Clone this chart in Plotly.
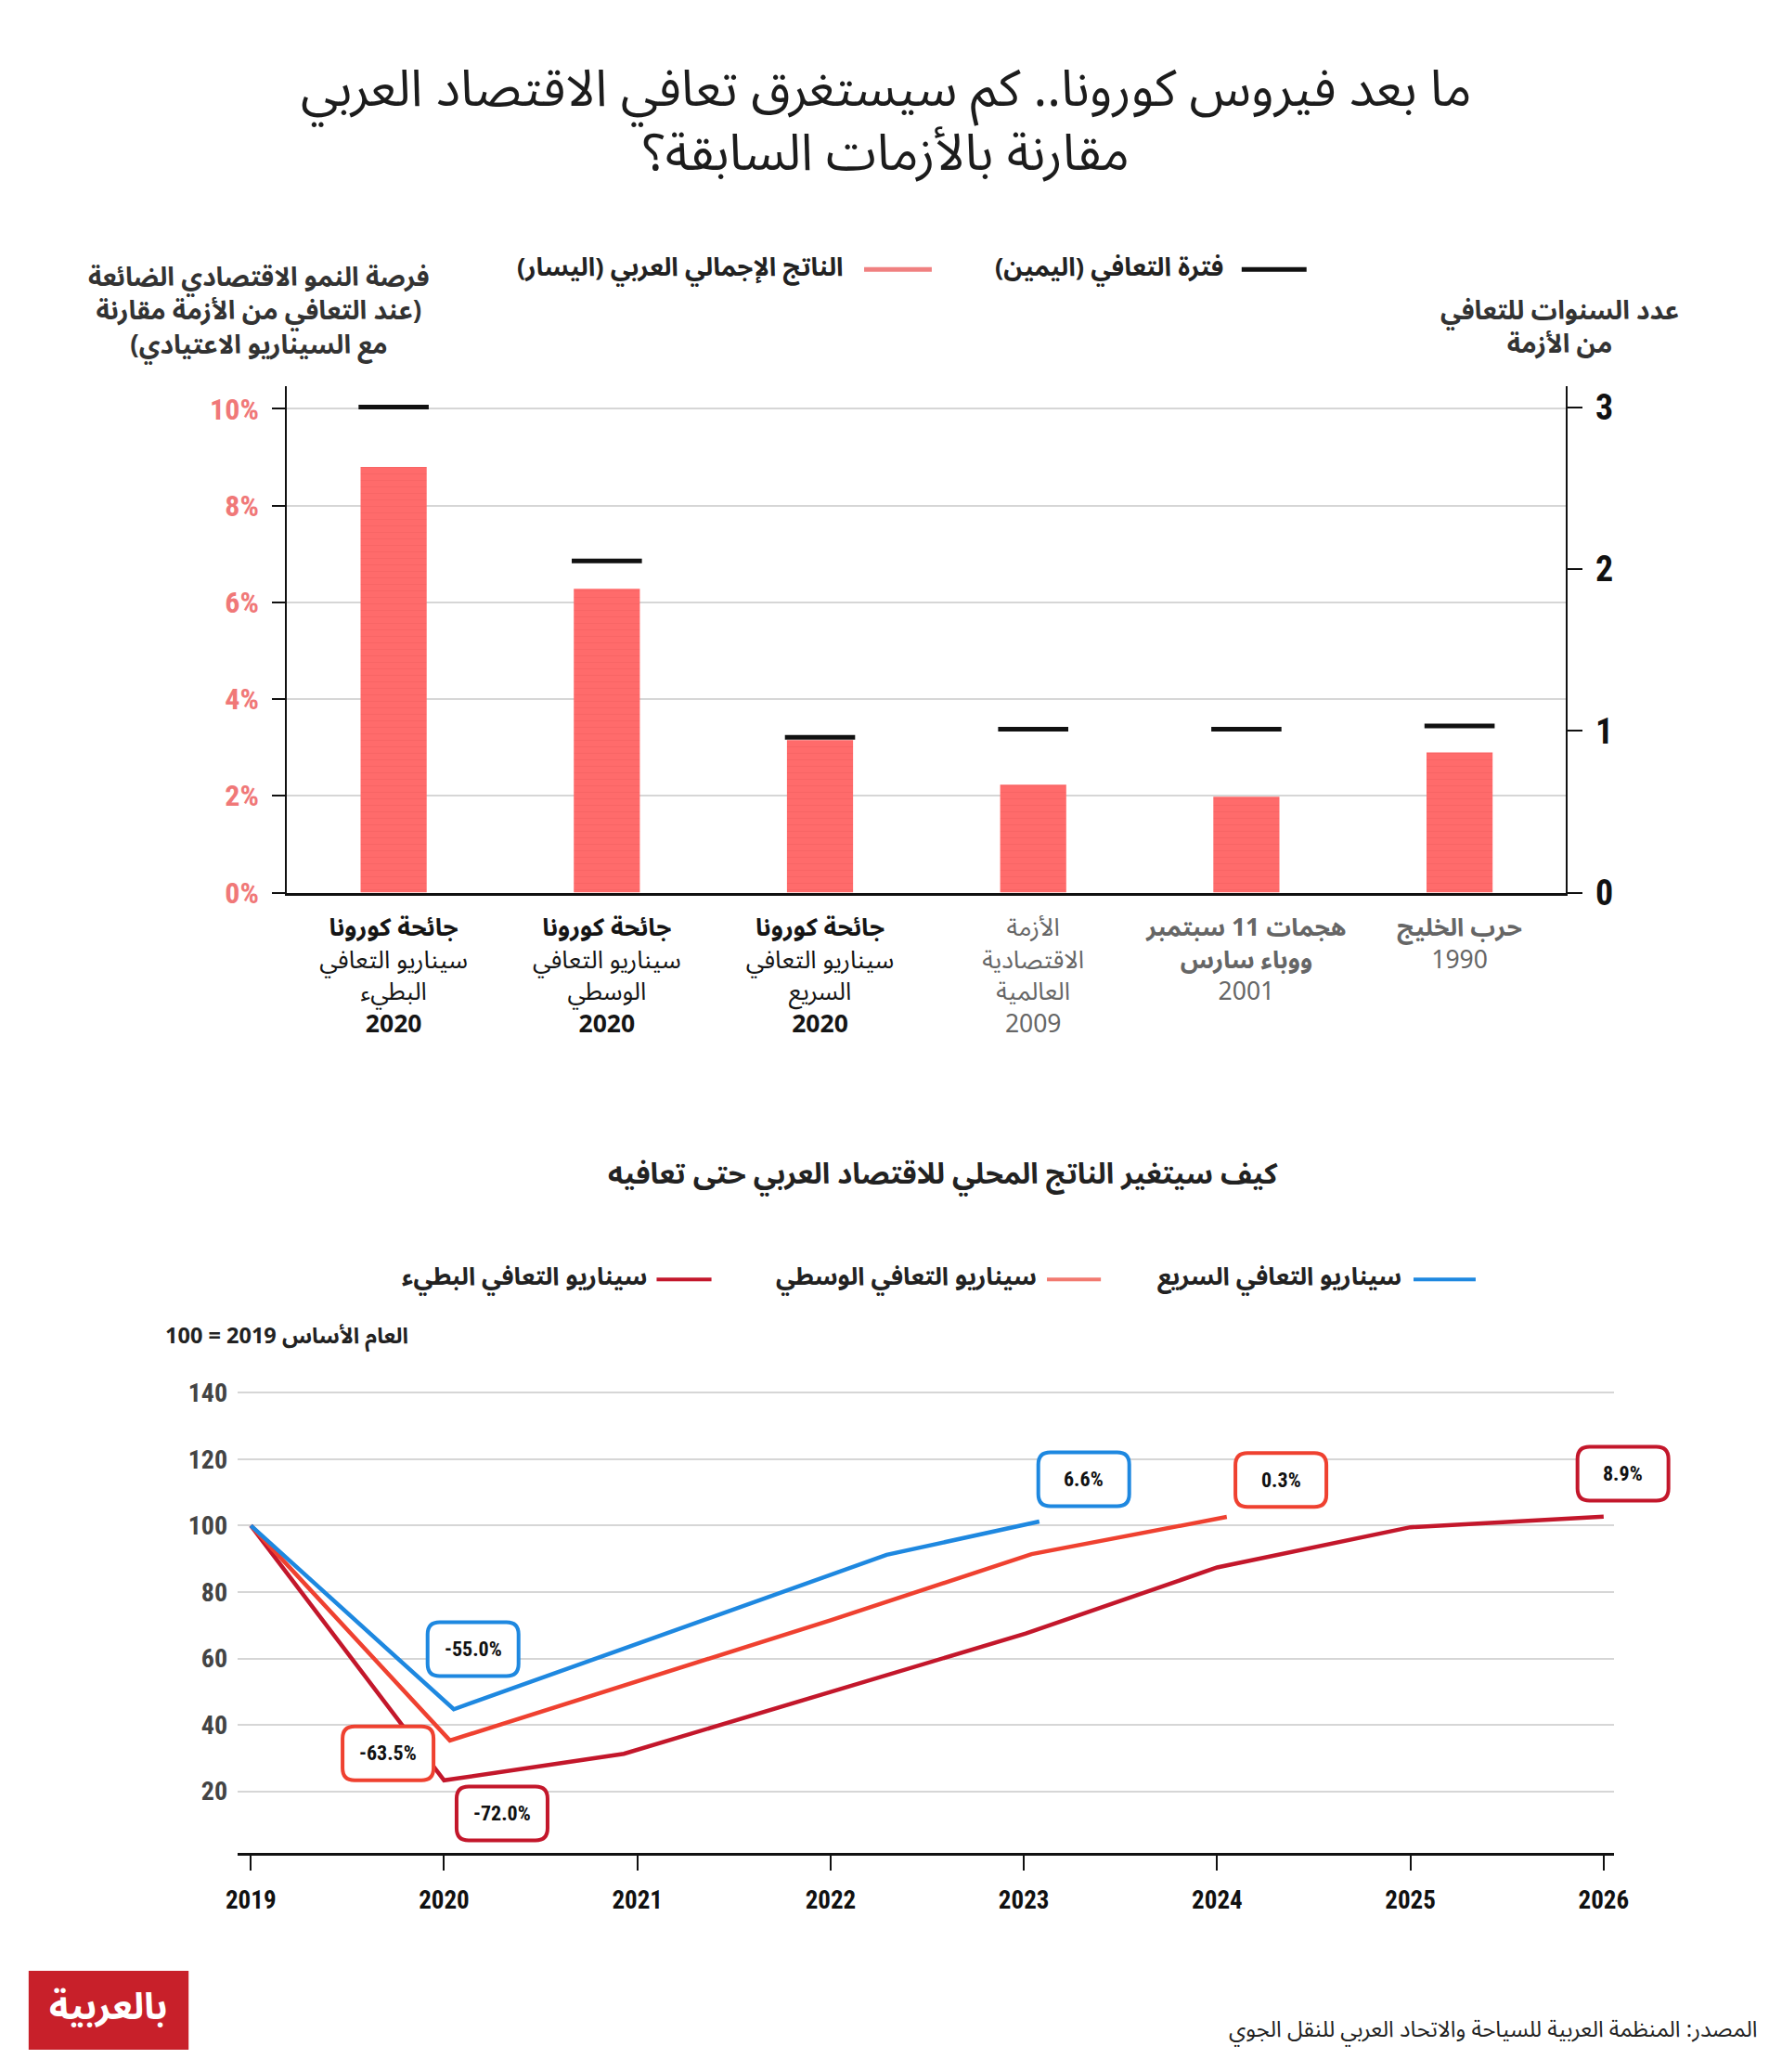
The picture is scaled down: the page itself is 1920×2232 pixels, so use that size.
import plotly.graph_objects as go

W, H = 1920, 2232
RLM = "\u200f"
AR = "Noto Sans Arabic Condensed, Noto Sans Arabic, Liberation Sans Narrow, DejaVu Sans Condensed, DejaVu Sans"
NUM = "Liberation Sans Narrow, Roboto Condensed, Roboto, Liberation Sans"

# ---------------- data: top chart ----------------
crisis_ids = ["c_slow", "c_mid", "c_fast", "gfc", "sep11", "gulf"]
crisis_lines = [
    ["جائحة كورونا", "سيناريو التعافي", "البطيء", "2020"],
    ["جائحة كورونا", "سيناريو التعافي", "الوسطي", "2020"],
    ["جائحة كورونا", "سيناريو التعافي", "السريع", "2020"],
    ["الأزمة", "الاقتصادية", "العالمية", "2009"],
    ["هجمات 11 سبتمبر", "ووباء سارس", "2001"],
    ["حرب الخليج", "1990"],
]
gdp_loss_pct = [8.8, 6.28, 3.15, 2.23, 1.98, 2.9]        # left axis (%)
recovery_years = [3.0, 2.05, 0.96, 1.01, 1.01, 1.03]     # right axis (years)
pct_ticks = [0, 2, 4, 6, 8, 10]
pct_tick_labels = ["0%", "2%", "4%", "6%", "8%", "10%"]
year_ticks = [0, 1, 2, 3]

# ---------------- data: bottom chart ----------------
years = [2019, 2020, 2021, 2022, 2023, 2024, 2025, 2026]
fast_x = [2019, 2020.05, 2022.29, 2023.08]
fast_y = [100, 44.7, 91.2, 101.2]
mid_x = [2019, 2020.03, 2022.0, 2023.04, 2024.05]
mid_y = [100, 35.3, 71.5, 91.4, 102.6]
slow_x = [2019, 2020.0, 2020.93, 2023.01, 2024.0, 2025.0, 2026.0]
slow_y = [100, 23.3, 31.3, 67.5, 87.4, 99.5, 102.7]
gdp_ticks = [20, 40, 60, 80, 100, 120, 140]

callout_text = ["6.6%", "-55.0%", "0.3%", "-63.5%", "8.9%", "-72.0%"]
callout_x = [2023.31, 2020.15, 2024.33, 2019.71, 2026.1, 2020.3]
callout_y = [113.9, 62.8, 113.7, 31.4, 115.6, 13.3]

BLUE = "#1e88e0"
MID = "#ef4130"
MID_LEG = "#f27a70"
DARK = "#c3172b"
SALMON = "#ff6b6b"
callout_color = [BLUE, BLUE, MID, MID, DARK, DARK]


def rtl(s):
    return RLM + s + RLM


def px(x):
    return x / W


def py(y):
    return 1 - y / H


# ---------- geometry (pixels) ----------
T_L, T_R, T_TOP, T_BOT = 292.7, 1692, 412, 963
B_L, B_R, B_TOP, B_BOT = 238.7, 1744, 1489, 2008
T_YR = [0, 10.47]
T_Y2R = [0, 3.13]
B_XR = [2018.932, 2026.052]
B_YR = [1.4, 145]


def bx_paper(x):
    return px(B_L + (x - B_XR[0]) / (B_XR[1] - B_XR[0]) * (B_R - B_L))


def by_paper(y):
    return py(B_BOT - (y - B_YR[0]) / (B_YR[1] - B_YR[0]) * (B_BOT - B_TOP))


# category tick labels
def cat_label(lines, idx):
    corona = idx < 3
    color = "#151515" if corona else "#666666"
    out = []
    for j, ln in enumerate(lines):
        if corona:
            bold = j == 0 or j == len(lines) - 1
        elif idx == 3:
            bold = False
        elif idx == 4:
            bold = j < 2
        else:
            bold = j == 0
        t = rtl(ln)
        if bold:
            t = "<b>" + t + "</b>"
        out.append("<span style='color:%s'>%s</span>" % (color, t))
    return "<br>".join(out)


crisis_ticktext = [cat_label(l, i) for i, l in enumerate(crisis_lines)]

fig = go.Figure()

fig.add_trace(go.Bar(
    x=crisis_ids, y=gdp_loss_pct, xaxis="x", yaxis="y",
    marker=dict(color=SALMON, line=dict(width=0),
                pattern=dict(shape="-", fgcolor="#e85555", fgopacity=0.3, size=7, solidity=0.15)),
    showlegend=False, hoverinfo="skip",
))
fig.add_trace(go.Scatter(
    x=crisis_ids, y=recovery_years, xaxis="x", yaxis="y2", mode="markers",
    marker=dict(symbol="line-ew", size=54, color="#111", line=dict(width=5, color="#111")),
    showlegend=False, cliponaxis=False, hoverinfo="skip",
))

for xs, ys, col in [(slow_x, slow_y, DARK), (mid_x, mid_y, MID), (fast_x, fast_y, BLUE)]:
    fig.add_trace(go.Scatter(
        x=xs, y=ys, xaxis="x3", yaxis="y3", mode="lines",
        line=dict(color=col, width=4.5), showlegend=False, hoverinfo="skip",
    ))

shapes = []
annotations = []

# title (two lines)
for txt, yy in [("ما بعد فيروس كورونا.. كم سيستغرق تعافي الاقتصاد العربي", 89),
                ("مقارنة بالأزمات السابقة؟", 159)]:
    annotations.append(dict(
        x=px(948), y=py(yy), xref="paper", yref="paper", showarrow=False, text=rtl(txt),
        font=dict(family=AR, size=55, color="#1c1c1c"), xanchor="center", yanchor="middle",
    ))

# top legend
shapes.append(dict(type="line", xref="paper", yref="paper", x0=px(1337), x1=px(1408), y0=py(285), y1=py(285),
                   line=dict(color="#111", width=5)))
shapes.append(dict(type="line", xref="paper", yref="paper", x0=px(924), x1=px(998), y0=py(285), y1=py(285),
                   line=dict(color="#f08080", width=5)))
annotations.append(dict(x=px(1320), y=py(283), xref="paper", yref="paper", showarrow=False,
                        text="<b>" + rtl("فترة التعافي (اليمين)") + "</b>",
                        font=dict(family=AR, size=27.5, color="#222"), xanchor="right", yanchor="middle"))
annotations.append(dict(x=px(904), y=py(283), xref="paper", yref="paper", showarrow=False,
                        text="<b>" + rtl("الناتج الإجمالي العربي (اليسار)") + "</b>",
                        font=dict(family=AR, size=27.5, color="#222"), xanchor="right", yanchor="middle"))

# axis titles top chart
annotations.append(dict(x=px(262), y=py(331), xref="paper", yref="paper", showarrow=False,
                        text="<br>".join("<b>" + rtl(s) + "</b>" for s in [
                            "فرصة النمو الاقتصادي الضائعة", "(عند التعافي من الأزمة مقارنة", "مع السيناريو الاعتيادي)"]),
                        font=dict(family=AR, size=28, color="#333"), align="center", xanchor="center", yanchor="middle"))
annotations.append(dict(x=px(1685), y=py(349), xref="paper", yref="paper", showarrow=False,
                        text="<br>".join("<b>" + rtl(s) + "</b>" for s in ["عدد السنوات للتعافي", "من الأزمة"]),
                        font=dict(family=AR, size=28, color="#333"), align="center", xanchor="center", yanchor="middle"))

# bottom subtitle
annotations.append(dict(x=px(1010), y=py(1270), xref="paper", yref="paper", showarrow=False,
                        text="<b>" + rtl("كيف سيتغير الناتج المحلي للاقتصاد العربي حتى تعافيه") + "</b>",
                        font=dict(family=AR, size=31, color="#222"), xanchor="center", yanchor="middle"))

# bottom legend
for (lx0, lx1, tx, lcol, txt) in [
    (1525, 1593, 1514, BLUE, "سيناريو التعافي السريع"),
    (1124, 1183, 1115, MID_LEG, "سيناريو التعافي الوسطي"),
    (697, 757, 689, DARK, "سيناريو التعافي البطيء"),
]:
    shapes.append(dict(type="line", xref="paper", yref="paper", x0=px(lx0), x1=px(lx1), y0=py(1384), y1=py(1384),
                       line=dict(color=lcol, width=4)))
    annotations.append(dict(x=px(tx), y=py(1382), xref="paper", yref="paper", showarrow=False,
                            text="<b>" + rtl(txt) + "</b>", font=dict(family=AR, size=26.5, color="#222"),
                            xanchor="right", yanchor="middle"))

annotations.append(dict(x=px(292), y=py(1446), xref="paper", yref="paper", showarrow=False,
                        text="<b>" + rtl("العام الأساس 2019 = 100") + "</b>",
                        font=dict(family=AR, size=23.5, color="#222"), xanchor="center", yanchor="middle"))

# callouts (rounded boxes)
hw, hh, rr = 49, 29, 13
box_path = ("M %d,%d L %d,%d Q %d,%d %d,%d L %d,%d Q %d,%d %d,%d L %d,%d Q %d,%d %d,%d L %d,%d Q %d,%d %d,%d Z" % (
    -hw + rr, -hh, hw - rr, -hh, hw, -hh, hw, -hh + rr, hw, hh - rr, hw, hh, hw - rr, hh,
    -hw + rr, hh, -hw, hh, -hw, hh - rr, -hw, -hh + rr, -hw, -hh, -hw + rr, -hh))
for t, cx, cy, col in zip(callout_text, callout_x, callout_y, callout_color):
    xa, ya = bx_paper(cx), by_paper(cy)
    shapes.append(dict(type="path", xref="paper", yref="paper", xsizemode="pixel", ysizemode="pixel",
                       xanchor=xa, yanchor=ya, path=box_path, fillcolor="white",
                       line=dict(color=col, width=4), layer="above"))
    annotations.append(dict(x=xa, y=ya, xref="paper", yref="paper", showarrow=False, text="<b>%s</b>" % t,
                            font=dict(family=NUM, size=22, color="#111"), xanchor="center", yanchor="middle"))

# logo
shapes.append(dict(type="rect", xref="paper", yref="paper", x0=px(10), x1=px(185), y0=py(2222), y1=py(2136),
                   fillcolor="#c8202a", line=dict(width=0), layer="above"))
annotations.append(dict(x=px(97), y=py(2176), xref="paper", yref="paper", showarrow=False,
                        text="<b>" + rtl("بالعربية") + "</b>", font=dict(family=AR, size=40, color="white"),
                        xanchor="center", yanchor="middle"))

# source
annotations.append(dict(x=px(1903), y=py(2200), xref="paper", yref="paper", showarrow=False,
                        text=rtl("المصدر: المنظمة العربية للسياحة والاتحاد العربي للنقل الجوي"),
                        font=dict(family=AR, size=24, color="#222"), xanchor="right", yanchor="middle"))

fig.update_layout(
    width=W, height=H, margin=dict(l=0, r=0, t=0, b=0),
    paper_bgcolor="white", plot_bgcolor="white",
    bargap=0.69, showlegend=False,
    shapes=shapes, annotations=annotations,
    font=dict(family=AR, color="#222"),
    xaxis=dict(domain=[px(T_L), px(T_R)], anchor="y", type="category", range=[-0.5, 5.5],
               tickvals=crisis_ids, ticktext=crisis_ticktext, ticks="", showgrid=False,
               showline=True, linecolor="#111", linewidth=3, zeroline=False,
               tickfont=dict(family=AR, size=26.5), ticklabelstandoff=12, fixedrange=True),
    yaxis=dict(domain=[py(T_BOT), py(T_TOP)], anchor="x", range=T_YR, tickvals=pct_ticks,
               ticktext=pct_tick_labels, showgrid=True, gridcolor="#d6d6d6", gridwidth=1.5,
               showline=True, linecolor="#111", linewidth=2, ticks="outside", ticklen=14, tickwidth=2,
               tickcolor="#111", zeroline=False,
               tickfont=dict(family=NUM, size=32, color="#f07878", weight="bold"), ticklabelstandoff=8),
    yaxis2=dict(overlaying="y", side="right", anchor="x", range=T_Y2R, tickvals=year_ticks,
                showgrid=False, showline=True, linecolor="#111", linewidth=2, ticks="outside", ticklen=16,
                tickwidth=2, tickcolor="#111", zeroline=False,
                tickfont=dict(family=NUM, size=38, color="#111", weight="bold"), ticklabelstandoff=6),
    xaxis3=dict(domain=[px(B_L), px(B_R)], anchor="y3", range=B_XR, tickvals=years,
                showgrid=False, showline=True, linecolor="#111", linewidth=3, ticks="outside", ticklen=16,
                tickwidth=2, tickcolor="#111", zeroline=False,
                tickfont=dict(family=NUM, size=27, color="#111", weight="bold"), ticklabelstandoff=8),
    yaxis3=dict(domain=[py(B_BOT), py(B_TOP)], anchor="x3", range=B_YR, tickvals=gdp_ticks,
                showgrid=True, gridcolor="#d6d6d6", gridwidth=1.5, showline=False, ticks="",
                zeroline=False, tickfont=dict(family=NUM, size=28, color="#444", weight="bold"),
                ticklabelstandoff=10),
)

fig.write_html("out.html")
